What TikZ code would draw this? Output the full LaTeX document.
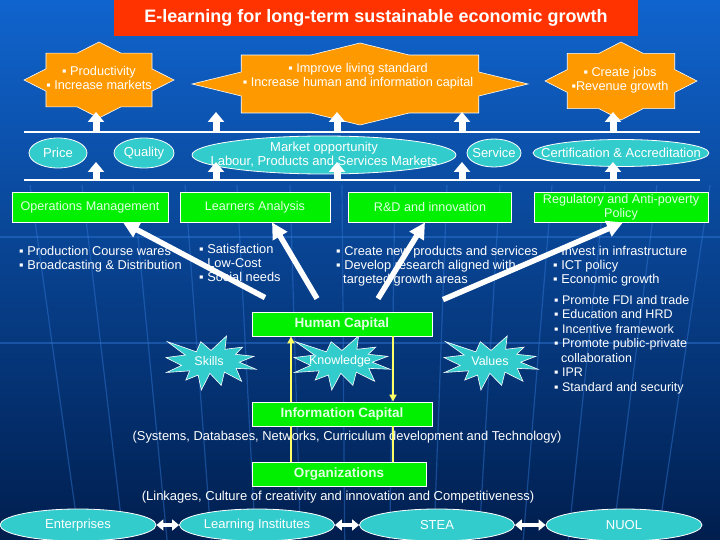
\documentclass[tikz,border=0pt]{standalone}
\usepackage{fontspec}
\setmainfont{Liberation Sans}
\usetikzlibrary{shapes.geometric,arrows.meta}

\definecolor{sfondoalto}{RGB}{16,100,206}
\definecolor{sfondomedio}{RGB}{8,62,145}
\definecolor{sfondobasso}{RGB}{0,30,78}
\definecolor{grigliablu}{RGB}{50,120,215}
\definecolor{rossotitolo}{RGB}{255,51,0}
\definecolor{arancio}{RGB}{255,153,0}
\definecolor{ciano}{RGB}{51,204,204}
\definecolor{verde}{RGB}{0,240,0}
\definecolor{giallo}{RGB}{255,255,102}
\definecolor{testoverde}{RGB}{225,255,225}

% stella a otto punte: centro x, centro y, raggio x, raggio y
\newcommand{\stellaotto}[4]{%
  \filldraw[stella] ({#1+#3},{#2})
    \foreach \k in {1,...,15} {
      -- ({#1+#3*(1-0.235*mod(\k,2))*cos(\k*22.5)},{#2+#4*(1-0.235*mod(\k,2))*sin(\k*22.5)})
    } -- cycle;
}
% esplosione: angolo x, angolo y, larghezza, altezza
\newcommand{\scoppio}[4]{%
  \filldraw[esplos] ({#1+#3*(108/216)},{#2+#4*(58/216)})
    \foreach \px/\py in {145.22/0,141.55/53.25,183.8/44.57,167.02/73.15,210.97/81.37,
      176.07/104.75,216/132.9,168.37/129.42,181.45/180.95,140.2/144.57,132.47/197.37,
      105.32/149.35,84.85/216,77.15/156.27,47.62/176.17,56.67/139.37,1.35/145.87,
      37.22/117.75,0/86.15,46.27/76.17,3.7/22.95,73.12/63.2,83.52/22.95} {
      -- ({#1+#3*(\px/216)},{#2+#4*(\py/216)})
    } -- cycle;
}

\begin{document}
\begin{tikzpicture}[x=1pt, y=-1pt,
    titolo/.style={fill=rossotitolo, text=white, minimum width=524pt, minimum height=36pt,
        inner sep=0pt, font=\bfseries\fontsize{18}{20}\selectfont},
    stella/.style={fill=arancio, draw=white, line width=0.6pt},
    testostella/.style={text=white, align=center, inner sep=0pt, font=\fontsize{12.7}{14.5}\selectfont},
    ellisse/.style={ellipse, fill=ciano, draw=white, line width=0.8pt,
        inner xsep=-22pt, inner ysep=-4pt,
        text=white, align=center, font=\fontsize{13}{14}\selectfont},
    scatola/.style={rectangle, fill=verde, draw=white, line width=0.8pt, minimum height=30pt,
        inner sep=0pt, text=testoverde, align=center, font=\fontsize{12.6}{14}\selectfont},
    capitale/.style={scatola, minimum width=180pt, minimum height=24pt,
        font=\bfseries\fontsize{13.5}{15}\selectfont},
    lista/.style={text=white, align=left, inner sep=0pt, anchor=north west,
        font=\fontsize{12.8}{14.2}\selectfont},
    nota/.style={text=white, inner sep=0pt, font=\fontsize{12.9}{14}\selectfont},
    esplos/.style={fill=ciano, draw=white, line width=0.6pt},
    linea/.style={white, line width=1.5pt},
    griglia/.style={grigliablu, line width=1.2pt, opacity=0.45},
    frecciasu/.style={white, line width=7pt, -{Triangle[length=10pt,width=16pt]}},
    frecciagrande/.style={white, line width=5.5pt, -{Triangle[length=16pt,width=16pt]}},
    frecciagialla/.style={giallo, line width=2.5pt, -{Triangle[length=7pt,width=7pt]}},
    lineagialla/.style={giallo, line width=2.5pt},
    doppiafreccia/.style={white, line width=4pt,
        {Triangle[length=7pt,width=11pt]}-{Triangle[length=7pt,width=11pt]}}
]
    % Sfondo
    \shade[top color=sfondoalto, middle color=sfondomedio, bottom color=sfondobasso]
        (0,0) rectangle (720,540);
    \useasboundingbox (0,0) rectangle (720,540);
    \foreach \y in {237,343} {
        \draw[griglia] (0,\y) -- (720,\y);
    }
    \foreach \x in {30,82,133,185,237,290,342,395,447,500,552,605,657,710} {
        \draw[griglia] (\x,185) -- ({\x+(360-\x)*0.15},540);
    }

    % Titolo
    \node[titolo] (titolo) at (376,18) {E-learning for long-term sustainable economic growth};

    % Obiettivi
    \stellaotto{99}{80}{75}{38}
    \stellaotto{360}{84}{168}{41}
    \stellaotto{621}{81}{76}{39}
    \node[testostella] (obiettivo1) at (99,78) {▪ Productivity\\▪ Increase markets};
    \node[testostella] (obiettivo2) at (358,76) {▪ Improve living standard\\▪ Increase human and information capital};
    \node[testostella] (obiettivo3) at (620,80) {▪ Create jobs\\▪Revenue growth};

    % Linee orizzontali
    \coordinate (lineaA1) at (24,132);
    \coordinate (lineaA2) at (700,132);
    \coordinate (lineaB1) at (24,180);
    \coordinate (lineaB2) at (700,180);
    \draw[linea] (lineaA1) -- (lineaA2);
    \draw[linea] (lineaB1) -- (lineaB2);

    % Fattori
    \node[ellisse, minimum width=58pt, minimum height=30pt] (prezzo) at (58,153) {Price};
    \node[ellisse, minimum width=60pt, minimum height=30pt] (qualita) at (144,153) {Quality};
    \node[ellisse, minimum width=264pt, minimum height=38pt] (mercato) at (324,155)
        {Market opportunity\\Labour, Products and Services Markets};
    \node[ellisse, minimum width=54pt, minimum height=28pt] (servizio) at (494,153) {Service};
    \node[ellisse, minimum width=176pt, minimum height=27pt] (certificazione) at (621,153)
        {Certification \& Accreditation};

    % Frecce verso l'alto
    \foreach \x [count=\i] in {96,216,337,462,613} {
        \coordinate (su\i) at (\x,132);
        \coordinate (giu\i) at (\x,180);
        \draw[frecciasu] (su\i) -- ++(0,-20);
        \draw[frecciasu] (giu\i) -- ++(0,-18);
    }

    % Aree
    \node[scatola, minimum width=156pt] (operazioni) at (90,207) {Operations Management};
    \node[scatola, minimum width=150pt] (studenti) at (255,207) {Learners Analysis};
    \node[scatola, minimum width=163pt] (ricerca) at (430,207) {R\&D and innovation};
    \node[scatola, minimum width=174pt] (politica) at (621,207) {Regulatory and Anti-poverty\\Policy};

    \node[lista] (lista1) at (19,246) {▪ Production Course wares\\▪ Broadcasting \& Distribution};
    \node[lista] (lista2) at (199,244) {▪ Satisfaction\\▪ Low-Cost\\▪ Social needs};
    \node[lista] (lista3) at (336,246) {▪ Create new products and services\\▪ Develop research aligned with\\\hspace*{7pt}targeted growth areas};
    \node[lista] (lista4) at (553,246) {▪ Invest in infrastructure\\▪ ICT policy\\▪ Economic growth};
    \node[lista, font=\fontsize{12.5}{14.5}\selectfont] (lista5) at (554,295)
        {▪ Promote FDI and trade\\▪ Education and HRD\\▪ Incentive framework\\▪ Promote public-private\\\hspace*{7pt}collaboration\\▪ IPR\\▪ Standard and security};

    % Capitale umano
    \scoppio{166}{336}{90}{54}
    \scoppio{294}{336}{96}{54}
    \scoppio{444}{336}{94}{54}
    \node[nota, font=\fontsize{12.5}{14}\selectfont] (abilita) at (209,361) {Skills};
    \node[nota, font=\fontsize{12.5}{14}\selectfont] (conoscenza) at (340,361) {Knowledge};
    \node[nota, font=\fontsize{12.5}{14}\selectfont] (valori) at (490,361) {Values};

    \node[capitale] (umano) at (342,324) {Human Capital};
    \node[capitale] (informazione) at (342,414) {Information Capital};
    \node[capitale, minimum width=174pt] (organizzazioni) at (339,474) {Organizations};

    \node[nota] (sistemi) at (347,437)
        {(Systems, Databases, Networks, Curriculum development and Technology)};
    \node[nota, font=\fontsize{13}{14}\selectfont] (legami) at (338,497)
        {(Linkages, Culture of creativity and innovation and Competitiveness)};

    % Attori
    \node[ellisse, minimum width=156pt, minimum height=32pt] (imprese) at (78,525) {Enterprises};
    \node[ellisse, minimum width=155pt, minimum height=32pt] (istituti) at (257,525) {Learning Institutes};
    \node[ellisse, minimum width=155pt, minimum height=32pt] (stea) at (437,525) {STEA};
    \node[ellisse, minimum width=156pt, minimum height=32pt] (nuol) at (624,525) {NUOL};
    \draw[doppiafreccia] (imprese) -- (istituti);
    \draw[doppiafreccia] (istituti) -- (stea);
    \draw[doppiafreccia] (stea) -- (nuol);

    % Collegamenti
    \draw[frecciagialla] ([xshift=-51pt]informazione.north) -- ([xshift=-51pt]umano.south);
    \draw[frecciagialla] ([xshift=51pt]umano.south) -- ([xshift=51pt]informazione.north);
    \draw[lineagialla] ([xshift=-51pt]informazione.south) -- ([xshift=-51pt]informazione.south |- organizzazioni.north);
    \draw[lineagialla] ([xshift=51pt]informazione.south) -- ([xshift=51pt]informazione.south |- organizzazioni.north);

    \draw[frecciagrande] ([xshift=-77pt,yshift=14pt]umano.north) -- ([xshift=33pt]operazioni.south);
    \draw[frecciagrande] ([xshift=-25pt,yshift=13pt]umano.north) -- ([xshift=17pt]studenti.south);
    \draw[frecciagrande] ([xshift=36pt,yshift=13pt]umano.north) -- ([xshift=-5pt]ricerca.south);
    \draw[frecciagrande] ([xshift=101pt,yshift=12pt]umano.north) -- ([xshift=2pt]politica.south);
\end{tikzpicture}
\end{document}
